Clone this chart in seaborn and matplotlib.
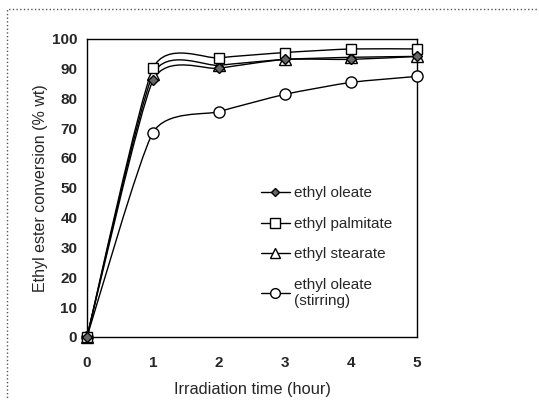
import numpy as np
import pandas as pd
import seaborn as sns
import matplotlib.pyplot as plt
from matplotlib.path import Path
from matplotlib.patches import PathPatch, Rectangle
from matplotlib.lines import Line2D

# data
hours = [0, 1, 2, 3, 4, 5]
oleate = [0, 86, 90, 93, 93, 94]
palmitate = [0, 90, 93.5, 95.3, 96.5, 96.5]
stearate = [0, 88, 91, 93, 93.7, 94]
oleate_stirring = [0, 68.5, 75.5, 81.3, 85.3, 87.3]

series_names = ["ethyl oleate", "ethyl palmitate", "ethyl stearate", "ethyl oleate\n(stirring)"]
series_values = [oleate, palmitate, stearate, oleate_stirring]

sns.set_style("white")
plt.rcParams['font.family'] = ['Liberation Sans', 'DejaVu Sans']

df = pd.DataFrame({"hour": hours * 4,
                   "conv": sum(series_values, []),
                   "series": sum([[n] * len(hours) for n in series_names], [])})


def smooth_path(x, y, k=10.0):
    # smoothed line like excel (bezier through the points)
    pts = np.column_stack([x, y]).astype(float)
    verts = [pts[0]]
    codes = [Path.MOVETO]
    n = len(pts)
    for i in range(n - 1):
        p0 = pts[i - 1] if i > 0 else pts[i]
        p1 = pts[i]
        p2 = pts[i + 1]
        p3 = pts[i + 2] if i + 2 < n else pts[i + 1]
        c1 = p1 + (p2 - p0) / k
        c2 = p2 - (p3 - p1) / k
        verts += [c1, c2, p2]
        codes += [Path.CURVE4] * 3
    return Path(verts, codes)


fig = plt.figure(figsize=(5.39, 4.0), dpi=100)
ax = fig.add_axes([87 / 539, 63 / 400, 330 / 539, 298.5 / 400])

# frame around the whole figure
fig.patches.append(Rectangle((7 / 539, -0.01), 0.995, (391 + 4) / 400, transform=fig.transFigure,
                             fill=False, edgecolor="#555555", linewidth=1.0, linestyle=":"))

markers = {"ethyl oleate": "D", "ethyl palmitate": "s", "ethyl stearate": "^",
           "ethyl oleate\n(stirring)": "o"}
faces = {"ethyl oleate": "#666666", "ethyl palmitate": "white", "ethyl stearate": "white",
         "ethyl oleate\n(stirring)": "white"}
sizes = {"ethyl oleate": 5.5, "ethyl palmitate": 7.5, "ethyl stearate": 8, "ethyl oleate\n(stirring)": 8}

for name, vals in zip(series_names, series_values):
    ax.add_patch(PathPatch(smooth_path(hours, vals), fill=False, edgecolor="black",
                           linewidth=1.0, zorder=2))

for name in series_names[::-1]:
    sub = df[df.series == name]
    sns.lineplot(data=sub, x="hour", y="conv", ax=ax, label=name, color="black",
                 linestyle="none", marker=markers[name], markersize=sizes[name],
                 markerfacecolor=faces[name], markeredgecolor="black",
                 markeredgewidth=1.0, zorder=3)

handles = [Line2D([], [], color="black", linewidth=1.0, marker=markers[n],
                  markersize=sizes[n] - 1, markerfacecolor=faces[n],
                  markeredgecolor="black") for n in series_names]
ax.legend(handles, series_names, loc="upper left", bbox_to_anchor=(0.508, 0.525),
          frameon=False, fontsize=11, labelspacing=1.08, handlelength=1.9,
          handletextpad=0.3, borderaxespad=0)

ax.set_xlim(0, 5)
ax.set_ylim(0, 100)
ax.set_xticks(hours)
ax.set_yticks(range(0, 101, 10))
for lbl in ax.get_xticklabels() + ax.get_yticklabels():
    lbl.set_fontweight("bold")
ax.tick_params(axis="x", direction="in", length=2, labelsize=11, pad=14, width=0.6)
ax.tick_params(axis="y", direction="out", length=0, labelsize=11, pad=7)
ax.set_xlabel("Irradiation time (hour)", fontsize=11.8, labelpad=8)
ax.set_ylabel("Ethyl ester conversion (% wt)", fontsize=11.5, labelpad=3)
for s in ax.spines.values():
    s.set_color("black")
    s.set_linewidth(1.0)
for ln in ax.lines:
    ln.set_clip_on(False)

fig.savefig("out.png", dpi=100)
